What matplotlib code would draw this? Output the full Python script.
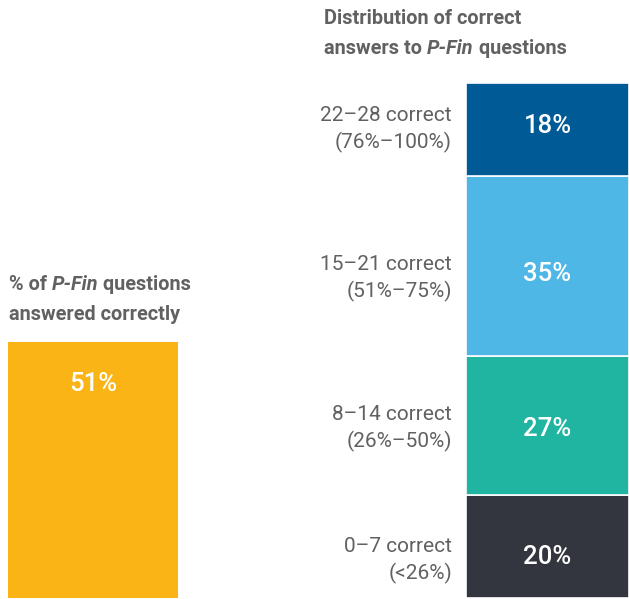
import matplotlib
matplotlib.use("Agg")
import matplotlib.pyplot as plt

# Data
categories = ["0–7 correct\n(<26%)", "8–14 correct\n(26%–50%)",
              "15–21 correct\n(51%–75%)", "22–28 correct\n(76%–100%)"]
shares = [20, 27, 35, 18]
colors = ["#33363F", "#20B5A0", "#4EB7E6", "#005A96"]
overall_pct = 51
overall_color = "#FBB416"

# label nudges (pixels, downward) for layout only
label_nudge_px = [14, 3.5, 13, 0.5]
pct_nudge_px = [11, 3.5, 8, -3]

FONT = ["Roboto", "DejaVu Sans"]
GRAY = "#616161"

W, H = 629, 599
fig = plt.figure(figsize=(W / 100, H / 100), dpi=100)

def ax_px(x0, y0_top, w, h):
    return fig.add_axes([x0 / W, 1 - (y0_top + h) / H, w / W, h / H])

# right stacked bar
axr = ax_px(466, 83, 163, 515)
axr.set_xlim(0, 1)
axr.set_ylim(0, 100)
bottom = 0
for cat, v, c, ln, pn in zip(categories, shares, colors, label_nudge_px, pct_nudge_px):
    axr.bar(0.5, v, width=1, bottom=bottom, color=c, edgecolor="white", linewidth=1.2)
    axr.annotate(f"{v}%", xy=(0.5, bottom + v / 2), xytext=(0, -pn * 0.72), textcoords="offset points",
                 ha="center", va="center", color="white",
                 fontsize=18.5, fontweight="medium", family=FONT)
    axr.annotate(cat, xy=(0, bottom + v / 2), xytext=(-10, -ln * 0.72), textcoords="offset points",
                 ha="right", va="center", color=GRAY, fontsize=15, family=FONT,
                 linespacing=1.42, multialignment="right", annotation_clip=False)
    bottom += v
axr.axis("off")

# left single bar
axl = ax_px(8, 96, 170, 502)
axl.set_xlim(0, 1)
axl.set_ylim(0, 100)
axl.bar(0.5, overall_pct, width=1, color=overall_color)
axl.annotate(f"{overall_pct}%", xy=(0.5, overall_pct), xytext=(0, -30), textcoords="offset points",
             ha="center", va="center", color="white", fontsize=18.5, fontweight="medium", family=FONT)
axl.axis("off")

fig.canvas.draw()
renderer = fig.canvas.get_renderer()

def mixed(x, y, parts, size=14.3):
    for txt, italic in parts:
        t = fig.text(x / W, 1 - y / H, txt, ha="left", va="center", color=GRAY, fontsize=size,
                     fontweight="bold", fontstyle="italic" if italic else "normal", family=FONT)
        bb = t.get_window_extent(renderer)
        x += bb.width

mixed(324, 19, [("Distribution of correct", False)])
mixed(324, 49, [("answers to ", False), ("P-Fin", True), (" questions", False)])
mixed(9, 285, [("% of ", False), ("P-Fin", True), (" questions", False)])
mixed(9, 315, [("answered correctly", False)])

fig.savefig("out.png", dpi=100)
